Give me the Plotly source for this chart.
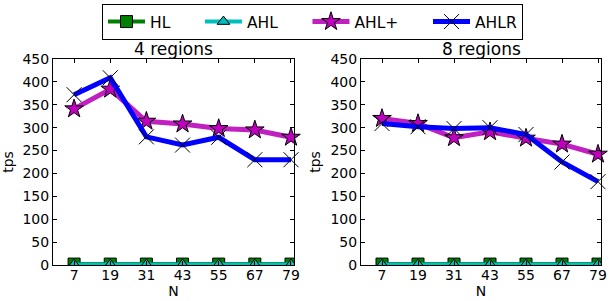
import plotly.graph_objects as go

N = [7, 19, 31, 43, 55, 67, 79]
y_ticks = [0, 50, 100, 150, 200, 250, 300, 350, 400, 450]
titles = ["4 regions", "8 regions"]

hl_4 = [2, 2, 2, 2, 2, 2, 2]
ahl_4 = [1, 1, 1, 1, 1, 1, 1]
ahlp_4 = [341, 384, 314, 308, 298, 295, 279]
ahlr_4 = [372, 409, 280, 262, 279, 230, 230]

hl_8 = [2, 2, 2, 2, 2, 2, 2]
ahl_8 = [1, 1, 1, 1, 1, 1, 1]
ahlp_8 = [320, 309, 278, 291, 277, 264, 242]
ahlr_8 = [309, 302, 298, 300, 285, 225, 182]

PAD = "\u00a0" * 5
series = [
    ("HL", PAD, [hl_4, hl_8], dict(color="#008000", width=4),
     dict(symbol="square", size=12, color="#008000", line=dict(color="black", width=1)), True),
    ("AHL", PAD, [ahl_4, ahl_8], dict(color="#00BFBF", width=4),
     dict(symbol="triangle-up", size=11, color="#00BFBF", line=dict(color="black", width=1)), True),
    ("AHL+", PAD, [ahlp_4, ahlp_8], dict(color="#C020C0", width=5),
     dict(symbol="star", size=14, color="#BF00BF", line=dict(color="black", width=1)), False),
    ("AHLR", "", [ahlr_4, ahlr_8], dict(color="#0000FF", width=5),
     dict(symbol="x-thin", size=15, color="black", line=dict(color="black", width=1)), False),
]

fig = go.Figure()
for name, pad, data, line, marker, clip in series:
    for i, vals in enumerate(data):
        fig.add_trace(go.Scatter(
            x=N, y=vals, name=name + pad, mode="lines+markers",
            line=line, marker=marker, showlegend=(i == 0), cliponaxis=clip,
            xaxis="x" if i == 0 else "x2", yaxis="y" if i == 0 else "y2",
        ))

font = dict(family="DejaVu Sans", size=14, color="black")
axis_common = dict(showline=True, linecolor="black", linewidth=1, mirror="ticks",
                   ticks="inside", ticklen=4, tickcolor="black", showgrid=False,
                   zeroline=False, tickfont=font, automargin=False)

L, R, T, B = 53, 9, 59, 36
W, H = 610, 301
pw = W - L - R
ph = H - T - B


def dx(px):
    return (px - L) / pw


def dy(py):
    return (H - B - py) / ph


fig.update_layout(
    width=W, height=H,
    margin=dict(l=L, r=R, t=T, b=B, autoexpand=False),
    paper_bgcolor="white", plot_bgcolor="white",
    font=font,
    xaxis=dict(domain=[dx(53), dx(294)], range=[0, 80], tickvals=N, anchor="y",
               ticklabelstandoff=-3,
               title=dict(text="N", font=font, standoff=0), **axis_common),
    yaxis=dict(domain=[0, 1], range=[0, 450], tickvals=y_ticks, anchor="x",
               title=dict(text="tps", font=font, standoff=6), **axis_common),
    xaxis2=dict(domain=[dx(361), dx(601)], range=[0, 80], tickvals=N, anchor="y2",
                ticklabelstandoff=-3,
                title=dict(text="N", font=font, standoff=0), **axis_common),
    yaxis2=dict(domain=[0, 1], range=[0, 450], tickvals=y_ticks, anchor="x2",
                title=dict(text="tps", font=font, standoff=6), **axis_common),
    legend=dict(orientation="h", x=dx(102), y=dy(4),
                xanchor="left", yanchor="top",
                bordercolor="black", borderwidth=1,
                font=dict(family="DejaVu Sans", size=15.5, color="black"),
                itemwidth=37, tracegroupgap=0),
    annotations=[
        dict(text=titles[0], x=(dx(53) + dx(294)) / 2, y=dy(58), xref="paper", yref="paper",
             xanchor="center", yanchor="bottom", showarrow=False, yshift=-3,
             font=dict(family="DejaVu Sans", size=17, color="black")),
        dict(text=titles[1], x=(dx(361) + dx(601)) / 2, y=dy(58), xref="paper", yref="paper",
             xanchor="center", yanchor="bottom", showarrow=False, yshift=-3,
             font=dict(family="DejaVu Sans", size=17, color="black")),
    ],
)

fig.write_html("out.html", config={"displayModeBar": False},
               post_script="document.body.style.margin='0';")
